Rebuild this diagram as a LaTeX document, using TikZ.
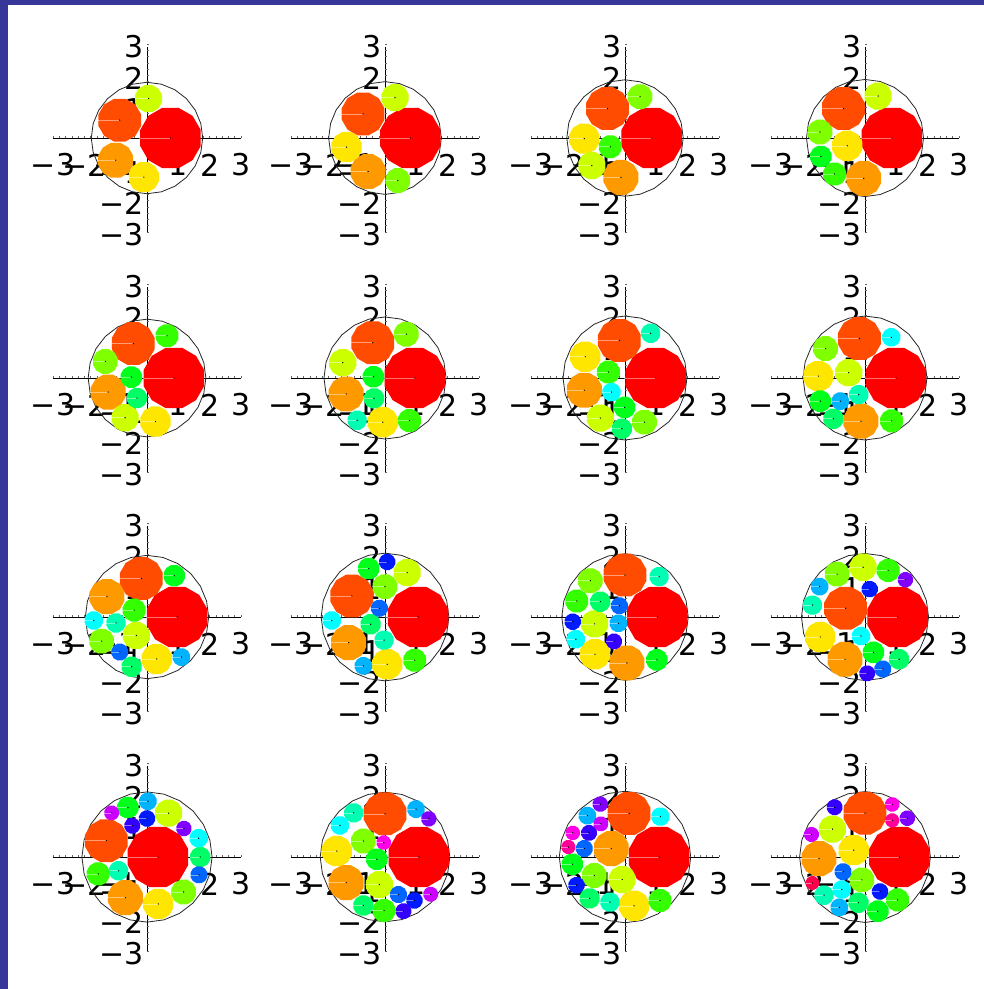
\documentclass[tikz,border=0pt]{standalone}
\usepackage{fontspec}
\setmainfont{DejaVu Sans}
\usepackage{tikz}
\usepackage{xcolor}
\definecolor{frame}{HTML}{37379A}
\definecolor{c1}{HTML}{FF0000}
\definecolor{c2}{HTML}{FF4C00}
\definecolor{c3}{HTML}{FF9900}
\definecolor{c4}{HTML}{FFE600}
\definecolor{c5}{HTML}{CCFF00}
\definecolor{c6}{HTML}{80FF00}
\definecolor{c7}{HTML}{33FF00}
\definecolor{c8}{HTML}{00FF1A}
\definecolor{c9}{HTML}{00FF66}
\definecolor{c10}{HTML}{00FFB3}
\definecolor{c11}{HTML}{00FFFF}
\definecolor{c12}{HTML}{00B3FF}
\definecolor{c13}{HTML}{0066FF}
\definecolor{c14}{HTML}{001AFF}
\definecolor{c15}{HTML}{3300FF}
\definecolor{c16}{HTML}{8000FF}
\definecolor{c17}{HTML}{CC00FF}
\definecolor{c18}{HTML}{FF00E6}
\definecolor{c19}{HTML}{FF0099}
\definecolor{c20}{HTML}{FF004D}
\tikzset{
  axis/.style={line width=0.9pt, draw=black},
  minortick/.style={line width=0.4pt, draw=black!60},
  ticklabel/.style={font=\fontsize{30}{30}\selectfont, inner sep=0pt, text=black},
  rim/.style={line width=0.8pt, draw=black!85},
  spoke/.style={line width=0.6pt, draw=white, opacity=0.45},
  centre/.style={fill=black},
}
\newcommand{\disc}[3]{%
  \pgfmathsetmacro{\rr}{1/sqrt(#3)}%
  \fill[fill=c#3] plot[samples=13, domain=15:375] ({#1+\rr*cos(\x)},{#2+\rr*sin(\x)}) -- cycle;
  \draw[spoke] (#1,#2) -- ++(-\rr,0);
  \fill[centre] (#1,#2) circle (0.7pt);
}
\newcommand{\panel}[4]{%
  \begin{scope}[shift={(#1pt,-#2pt)}, x=31.3pt, y=31.3pt]
    \draw[axis] (-3,0) -- (3,0);
    \draw[axis] (0,-3) -- (0,2.9);
    \foreach \i in {-15,...,15} {
      \draw[minortick] (\i/5,0) -- ++(0,0.07);
      \draw[minortick] (0,\i/5) -- ++(0.07,0);
    }
    \foreach \t/\s in {-3/−3,-2/−2,-1/−1,1/1,2/2,3/3} {
      \node[ticklabel] (xlabel) at (\t,-0.86) {\s};
      \node[ticklabel, anchor=east] (ylabel) at (-0.09,\t-0.09) {\s};
    }
    \draw[rim] plot[samples=25, domain=0:360] ({#3*cos(\x)},{#3*sin(\x)}) -- cycle;
    \foreach \px/\py/\k in {#4} {\disc{\px}{\py}{\k}}
  \end{scope}}

\begin{document}
\begin{tikzpicture}[x=1pt,y=-1pt]
  \useasboundingbox (0,0) rectangle (984,989);
  \fill[white] (0,0) rectangle (984,989);
  \fill[frame] (0,0) rectangle (984,5);
  \fill[frame] (0,0) rectangle (8,989);

  \panel{147}{138}{1.78}{0.75/0/1, -0.87/0.57/2, -1.0/-0.71/3, -0.10/-1.25/4, 0.05/1.26/5}
  \panel{385}{138}{1.8}{0.81/0/1, -0.70/0.77/2, -0.54/-1.07/3, -1.23/-0.29/4, 0.32/1.29/5, 0.41/-1.36/6}
  \panel{625}{138}{1.86}{0.85/0/1, -0.56/0.94/2, -0.13/-1.26/3, -1.30/-0.02/4, -1.06/-0.88/5, 0.48/1.32/6, -0.47/-0.28/7}
  \panel{865}{138}{1.87}{0.86/0/1, -0.69/0.94/2, -0.04/-1.29/3, -0.57/-0.25/4, 0.42/1.34/5, -1.44/0.19/6, -0.97/-1.15/7, -1.41/-0.59/8}

  \panel{147}{378}{1.88}{0.86/0/1, -0.44/1.10/2, -1.24/-0.45/3, 0.27/-1.39/4, -0.70/-1.27/5, -1.33/0.53/6, 0.64/1.35/7, -0.50/0.03/8, -0.32/-0.64/9}
  \panel{385}{378}{1.95}{0.95/0/1, -0.39/1.13/2, -1.24/-0.51/3, -0.07/-1.41/4, -1.35/0.49/5, 0.68/1.40/6, 0.78/-1.36/7, -0.37/0.04/8, -0.35/-0.65/9, -0.89/-1.35/10}
  \panel{625}{378}{1.98}{0.98/0/1, -0.18/1.20/2, -1.30/-0.39/3, -1.27/0.68/4, -0.79/-1.28/5, 0.62/-1.41/6, -0.53/0.19/7, -0.01/-0.94/8, -0.10/-1.62/9, 0.82/1.43/10, -0.43/-0.45/11}
  \panel{865}{378}{1.98}{0.99/0/1, -0.18/1.26/2, -0.13/-1.38/3, -1.49/0.06/4, -0.52/0.17/5, -1.26/0.94/6, 0.85/-1.37/7, -1.43/-0.74/8, -1.01/-1.30/9, -0.20/-0.53/10, 0.84/1.30/11, -0.79/-0.74/12}

  \panel{147}{617}{1.97}{0.96/0/1, -0.18/1.23/2, -1.28/0.65/3, 0.31/-1.34/4, -0.34/-0.59/5, -1.45/-0.77/6, -0.41/0.22/7, 0.87/1.32/8, -0.49/-1.59/9, -0.99/-0.19/10, -1.70/-0.11/11, 1.10/-1.28/12, -0.87/-1.12/13}
  \panel{385}{617}{2.04}{1.06/0/1, -1.06/0.67/2, -1.16/-0.82/3, 0.07/-1.51/4, 0.71/1.42/5, 0/0.97/6, 0.95/-1.38/7, -0.52/1.55/8, -0.46/-0.23/9, -0.03/-0.74/10, -1.70/-0.11/11, -0.69/-1.56/12, -0.18/0.28/13, 0.07/1.76/14}
  \panel{625}{617}{2.02}{1.03/0/1, 0/1.34/2, 0.06/-1.47/3, -0.96/-1.19/4, -0.97/-0.22/5, -1.11/1.16/6, -1.54/0.51/7, 1.02/-1.37/8, -0.79/0.49/9, 1.09/1.29/10, -1.57/-0.71/11, -0.21/-0.20/12, -0.18/0.36/13, -1.67/-0.15/14, -0.35/-0.78/15}
  \panel{865}{617}{2.03}{1.04/0/1, -0.62/0.28/2, -0.64/-1.35/3, -1.43/-0.64/4, -0.06/1.59/5, -0.89/1.37/6, 0.74/1.49/7, 0.27/-1.13/8, 1.09/-1.35/9, -1.68/0.38/10, -0.13/-0.61/11, -1.45/0.97/12, 0.57/-1.66/13, 0.15/0.89/14, 0.07/-1.80/15, 1.29/1.19/16}

  \panel{147}{857}{2.08}{0.35/0/1, -1.30/0.52/2, -0.69/-1.30/3, 0.36/-1.50/4, 0.69/1.40/5, 1.17/-1.12/6, -1.56/-0.54/7, -0.61/1.58/8, 1.70/0/9, -0.91/-0.44/10, 1.65/0.60/11, 0.03/1.78/12, 1.66/-0.57/13, 0/1.23/14, -0.47/1.00/15, 1.18/0.91/16, -1.13/1.41/17}
  \panel{385}{857}{2.07}{1.08/0/1, 0/1.38/2, -1.24/-0.82/3, -1.54/0.19/4, -0.18/-0.88/5, -0.69/0.51/6, -0.03/-1.71/7, -0.26/-0.07/8, -0.69/-1.55/9, -1.00/1.41/10, -1.44/1.01/11, 0.99/1.53/12, 0.43/-1.20/13, 0.94/-1.39/14, 0.59/-1.73/15, 1.40/1.22/16, 1.46/-1.19/17, -0.04/0.46/18}
  \panel{625}{857}{2.1}{1.09/0/1, 0.13/1.39/2, -0.44/0.27/3, 0.29/-1.56/4, -0.09/-0.72/5, -0.98/-0.59/6, 1.12/-1.39/7, -1.68/-0.23/8, -1.13/-1.32/9, -0.48/-1.44/10, 1.13/1.29/11, -1.20/1.32/12, -1.30/0.27/13, -1.55/-0.90/14, -1.15/0.77/15, -0.79/1.69/16, -0.77/1.06/17, -1.67/0.77/18, -1.81/0.32/19}
  \panel{865}{857}{2.09}{1.10/0/1, 0/1.40/2, -1.47/-0.05/3, -0.36/0.22/4, -1.04/0.89/5, -0.10/-0.73/6, 1.04/-1.37/7, 0.41/-1.73/8, -0.21/-1.46/9, -1.31/-1.22/10, -0.74/-1.04/11, -0.82/-1.61/12, -0.70/-0.47/13, 0.48/-1.10/14, -0.97/1.59/15, 1.35/1.24/16, -1.71/0.72/17, 0.87/1.68/18, 0.87/1.17/19, -1.68/-0.83/20}
\end{tikzpicture}
\end{document}
